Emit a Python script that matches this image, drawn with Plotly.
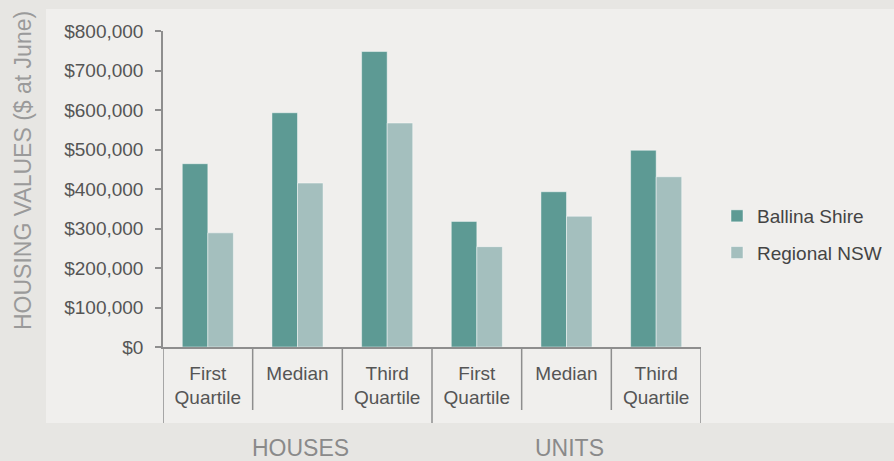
import plotly.graph_objects as go

# ---- data ----
groups = ["HOUSES", "UNITS"]
categories = ["First<br>Quartile", "Median", "Third<br>Quartile",
              "First<br>Quartile", "Median", "Third<br>Quartile"]
ballina = [464000, 593000, 748000, 318000, 393000, 498000]
regional = [289000, 415000, 567000, 254000, 331000, 431000]
y_ticks = [0, 100000, 200000, 300000, 400000, 500000, 600000, 700000, 800000]

# ---- layout geometry ----
W, H = 894, 461
ML, MR, MT, MB = 163, 193, 31, 114
PW, PH = W - ML - MR, H - MT - MB

def px_x(px):
    return (px - ML) / PW

def px_y(py):
    return (H - MB - py) / PH

BALLINA_C = "#5d9a94"
REGIONAL_C = "#a4bfbe"
AXIS_C = "#8e8e8e"
TEXT_C = "#555555"
FONT = "Liberation Sans, Arial, sans-serif"

xpos = list(range(len(categories)))

fig = go.Figure()
fig.add_trace(go.Bar(x=xpos, y=ballina, name="Ballina Shire",
                     marker=dict(color=BALLINA_C, line=dict(color="rgba(255,255,255,0.45)", width=1)),
                     legendgroup="a"))
fig.add_trace(go.Bar(x=xpos, y=regional, name="Regional NSW",
                     marker=dict(color=REGIONAL_C, line=dict(color="rgba(255,255,255,0.45)", width=1)),
                     legendgroup="b"))

shapes = []
# inner panel
shapes.append(dict(type="rect", xref="paper", yref="paper", layer="below",
                   x0=px_x(46), x1=px_x(W + 5), y0=px_y(423), y1=px_y(9),
                   fillcolor="#f0efed", line=dict(width=0)))
# category dividers
n = len(categories)
for k in range(n + 1):
    long_div = (k % 3 == 0)
    shapes.append(dict(type="line", xref="x", yref="paper",
                       x0=k - 0.5, x1=k - 0.5, y0=0,
                       y1=px_y(423) if long_div else px_y(410),
                       line=dict(color=AXIS_C, width=1.5)))

annotations = []
for gi, g in enumerate(groups):
    annotations.append(dict(text=g, xref="x", yref="paper", x=gi * 3 + 1, y=px_y(448),
                            xanchor="center", yanchor="middle",
                            xshift=3, showarrow=False,
                            font=dict(size=23, color="#8a8a8a", family=FONT)))
annotations.append(dict(text="HOUSING VALUES ($ at June)", xref="paper", yref="paper",
                        x=px_x(23), y=px_y(171), textangle=-90, showarrow=False,
                        xanchor="center", yanchor="middle",
                        font=dict(size=23, color="#9a9a9a", family=FONT)))

fig.update_layout(
    width=W, height=H,
    margin=dict(l=ML, r=MR, t=MT, b=MB, autoexpand=False),
    paper_bgcolor="#e7e6e3",
    plot_bgcolor="rgba(0,0,0,0)",
    barmode="group", bargap=0.43, bargroupgap=0,
    font=dict(family=FONT, size=19, color=TEXT_C),
    showlegend=True,
    legend=dict(x=px_x(717), y=px_y(197), xanchor="left", yanchor="top",
                bgcolor="rgba(0,0,0,0)", font=dict(size=19, color="#444444"),
                tracegroupgap=9, itemwidth=30),
    shapes=shapes,
    annotations=annotations,
    xaxis=dict(range=[-0.5, n - 0.5], tickvals=xpos, ticktext=categories,
               showline=True, linecolor=AXIS_C, linewidth=1.5,
               ticks="", showgrid=False, zeroline=False,
               ticklabelstandoff=8,
               tickfont=dict(size=19, color=TEXT_C)),
    yaxis=dict(range=[0, 800000], tickvals=y_ticks, tickformat="$,.0f",
               showline=True, linecolor=AXIS_C, linewidth=1.5,
               ticks="outside", ticklen=6, tickwidth=1.5, tickcolor=AXIS_C,
               showgrid=False, zeroline=False,
               ticklabelstandoff=8,
               tickfont=dict(size=19, color=TEXT_C)),
)

fig.write_html("out.html", config={"displayModeBar": False},
               post_script="document.body.style.margin='0';document.body.style.padding='0';document.body.style.overflow='hidden';")
